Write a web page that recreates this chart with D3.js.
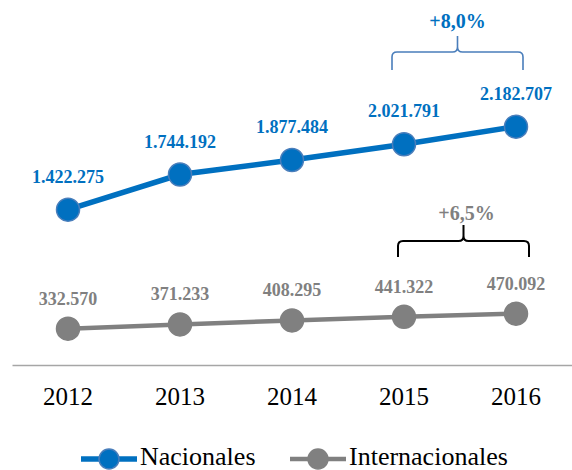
<!DOCTYPE html>
<html lang="es">
<head>
<meta charset="utf-8">
<script src="https://d3js.org/d3.v7.min.js"></script>
<style>
  body { margin: 0; background: #fff; }
  svg { display: block; font-family: "Liberation Serif", "Times New Roman", serif; }
  text { font-family: "Liberation Serif", "Times New Roman", serif; }
  .axis .domain { stroke: #a6a6a6; stroke-width: 1.5; }
  .axis text { font-size: 25px; fill: #000; }
</style>
</head>
<body>
<div id="chart"></div>
<script>
// data
var years = ["2012", "2013", "2014", "2015", "2016"];
var nacionales = [1422275, 1744192, 1877484, 2021791, 2182707];
var internacionales = [332570, 371233, 408295, 441322, 470092];
var seriesNames = ["Nacionales", "Internacionales"];
var growthLabels = ["+8,0%", "+6,5%"];

(function() {
  var width = 572, height = 470;
  var blue = "#0070c0", gray = "#808080";

  var svg = d3.select("#chart").append("svg")
      .attr("width", width)
      .attr("height", height);

  var x = d3.scaleBand().domain(years).range([12, 572]);
  var y = d3.scaleLinear().domain([0, 2500000]).range([365, 92]);
  var cx = function(d, i) { return x(years[i]) + x.bandwidth() / 2; };
  var fmt = function(v) { return d3.format(",")(v).replace(/,/g, "."); };

  // x axis
  svg.append("g")
      .attr("class", "axis")
      .attr("transform", "translate(0," + y(0) + ")")
      .call(d3.axisBottom(x).tickSize(0).tickPadding(22))
      .attr("font-family", null)
      .attr("font-size", null);

  var series = [
    {name: seriesNames[0], values: nacionales, color: blue, width: 5.5, stroke: "#4a7ebb", dy: -27},
    {name: seriesNames[1], values: internacionales, color: gray, width: 4.5, stroke: gray, dy: -24}
  ];

  var line = d3.line()
      .x(function(d, i) { return cx(d, i); })
      .y(function(d) { return y(d); });

  series.forEach(function(s) {
    svg.append("path")
        .datum(s.values)
        .attr("fill", "none")
        .attr("stroke", s.color)
        .attr("stroke-width", s.width)
        .attr("d", line);
    svg.append("g").selectAll("circle")
        .data(s.values)
      .enter().append("circle")
        .attr("cx", cx)
        .attr("cy", function(d) { return y(d); })
        .attr("r", 11.5)
        .attr("fill", s.color)
        .attr("stroke", s.stroke)
        .attr("stroke-width", 1.5);
    svg.append("g").selectAll("text")
        .data(s.values)
      .enter().append("text")
        .attr("x", cx)
        .attr("y", function(d) { return y(d) + s.dy; })
        .attr("text-anchor", "middle")
        .attr("font-size", 18)
        .attr("font-weight", "bold")
        .attr("fill", s.color)
        .text(fmt);
  });

  // curly brace between x0 and x1, horizontal at yMid, ends down to yBot, tip up to yTop
  function brace(x0, x1, yBot, yMid, yTop) {
    var m = (x0 + x1) / 2, r = 5;
    return "M" + x0 + "," + yBot +
      "L" + x0 + "," + (yMid + r) +
      "Q" + x0 + "," + yMid + " " + (x0 + r) + "," + yMid +
      "L" + (m - r) + "," + yMid +
      "Q" + m + "," + yMid + " " + m + "," + (yMid - r) +
      "L" + m + "," + yTop +
      "M" + m + "," + (yMid - r) +
      "Q" + m + "," + yMid + " " + (m + r) + "," + yMid +
      "L" + (x1 - r) + "," + yMid +
      "Q" + x1 + "," + yMid + " " + x1 + "," + (yMid + r) +
      "L" + x1 + "," + yBot;
  }

  var x15 = x("2015") + x.bandwidth() / 2, x16 = x("2016") + x.bandwidth() / 2;

  svg.append("path")
      .attr("d", brace(x15 - 12, x16 + 7, 70, 52, 36))
      .attr("fill", "none")
      .attr("stroke", "#4a7ebb")
      .attr("stroke-width", 1.6);
  svg.append("text")
      .attr("x", (x15 - 12 + x16 + 7) / 2)
      .attr("y", 28)
      .attr("text-anchor", "middle")
      .attr("font-size", 20)
      .attr("font-weight", "bold")
      .attr("fill", blue)
      .text(growthLabels[0]);

  svg.append("path")
      .attr("d", brace(x15 - 6, x16 + 13, 257, 241, 225))
      .attr("fill", "none")
      .attr("stroke", "#000")
      .attr("stroke-width", 2);
  svg.append("text")
      .attr("x", (x15 - 6 + x16 + 13) / 2 + 3)
      .attr("y", 220)
      .attr("text-anchor", "middle")
      .attr("font-size", 20)
      .attr("font-weight", "bold")
      .attr("fill", gray)
      .text(growthLabels[1]);

  // legend
  var legendX = [81, 290];
  var legend = svg.append("g").selectAll("g")
      .data(series)
    .enter().append("g")
      .attr("transform", function(d, i) { return "translate(" + legendX[i] + ",459)"; });
  legend.append("line")
      .attr("x1", 0).attr("x2", 56)
      .attr("stroke", function(d) { return d.color; })
      .attr("stroke-width", function(d) { return d.width; });
  legend.append("circle")
      .attr("cx", 28)
      .attr("r", 10)
      .attr("fill", function(d) { return d.color; })
      .attr("stroke", function(d) { return d.stroke; })
      .attr("stroke-width", 1.5);
  legend.append("text")
      .attr("x", 59)
      .attr("y", 6)
      .attr("font-size", 26)
      .attr("fill", "#000")
      .text(function(d) { return d.name; });
})();
</script>
</body>
</html>
